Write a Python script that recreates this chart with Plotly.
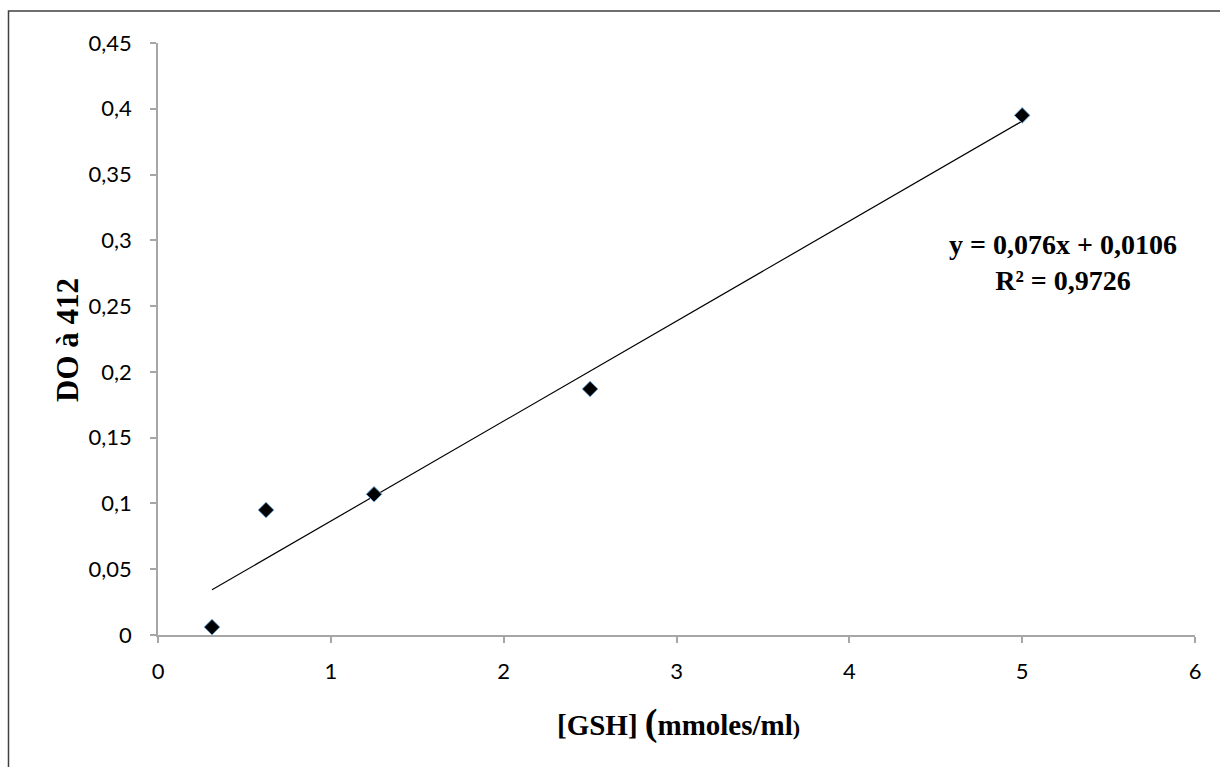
import plotly.graph_objects as go

# Data
gsh_conc = [0.3125, 0.625, 1.25, 2.5, 5.0]
absorbance = [0.006, 0.095, 0.107, 0.187, 0.395]
slope = 0.076
intercept = 0.0106
r2 = 0.9726
x_ticks = [0, 1, 2, 3, 4, 5, 6]
y_ticks = [0, 0.05, 0.1, 0.15, 0.2, 0.25, 0.3, 0.35, 0.4, 0.45]

trend_x = [min(gsh_conc), max(gsh_conc)]
trend_y = [slope * v + intercept for v in trend_x]

fig = go.Figure()
fig.add_trace(go.Scatter(x=trend_x, y=trend_y, mode="lines",
                         line=dict(color="black", width=1.2), showlegend=False,
                         hoverinfo="skip"))
fig.add_trace(go.Scatter(x=gsh_conc, y=absorbance, mode="markers",
                         marker=dict(symbol="diamond", size=12, color="black",
                                     line=dict(color="#6FA8DC", width=1)),
                         showlegend=False))

L, R, T, B = 158, 25, 43, 132
W, H = 1220, 767
pw, ph = W - L - R, H - T - B

def px(xp):
    return (xp - L) / pw

def py(yp):
    return (H - B - yp) / ph

axis_color = "#A6A6A6"
tick_font = dict(family="Lato, 'Open Sans', sans-serif", size=22, color="black")

fig.update_layout(
    width=W, height=H,
    margin=dict(l=L, r=R, t=T, b=B),
    paper_bgcolor="white", plot_bgcolor="white",
    separators=", ",
    xaxis=dict(range=[0, 6], tickvals=x_ticks, showgrid=False, zeroline=False,
               showline=True, linecolor=axis_color, linewidth=1.5,
               ticks="outside", tickcolor=axis_color, ticklen=6, tickwidth=1.5,
               tickfont=tick_font, ticklabelstandoff=10),
    yaxis=dict(range=[0, 0.45], tickvals=y_ticks, showgrid=False, zeroline=False,
               showline=True, linecolor=axis_color, linewidth=1.5,
               ticks="outside", tickcolor=axis_color, ticklen=6, tickwidth=1.5,
               tickfont=tick_font, ticklabelstandoff=14),
    shapes=[dict(type="rect", xref="paper", yref="paper",
                 x0=px(8.5), y0=py(800), x1=px(1260), y1=py(11),
                 line=dict(color="#404040", width=1.5), layer="below")],
    annotations=[
        dict(xref="paper", yref="paper", x=px(678), y=py(722),
             text="<b>[GSH] <span style='font-size:38px'>(</span>mmoles/ml<span style='font-size:22px'>)</span></b>",
             showarrow=False, xanchor="center", yanchor="middle",
             font=dict(family="Liberation Serif, serif", size=29, color="black")),
        dict(xref="paper", yref="paper", x=px(67), y=py(340),
             text="<b>DO à 412</b>", textangle=-90,
             showarrow=False, xanchor="center", yanchor="middle",
             font=dict(family="Liberation Serif, serif", size=31, color="black")),
        dict(xref="paper", yref="paper", x=px(1063), y=py(262),
             text=f"<b>y = {slope:.3f}x + {intercept:.4f}".replace(".", ",") +
                  f"<br>R² = {r2:.4f}</b>".replace(".", ","),
             showarrow=False, xanchor="center", yanchor="middle", align="center",
             font=dict(family="Liberation Serif, serif", size=28, color="black")),
    ],
)

fig.write_html("out.html")
